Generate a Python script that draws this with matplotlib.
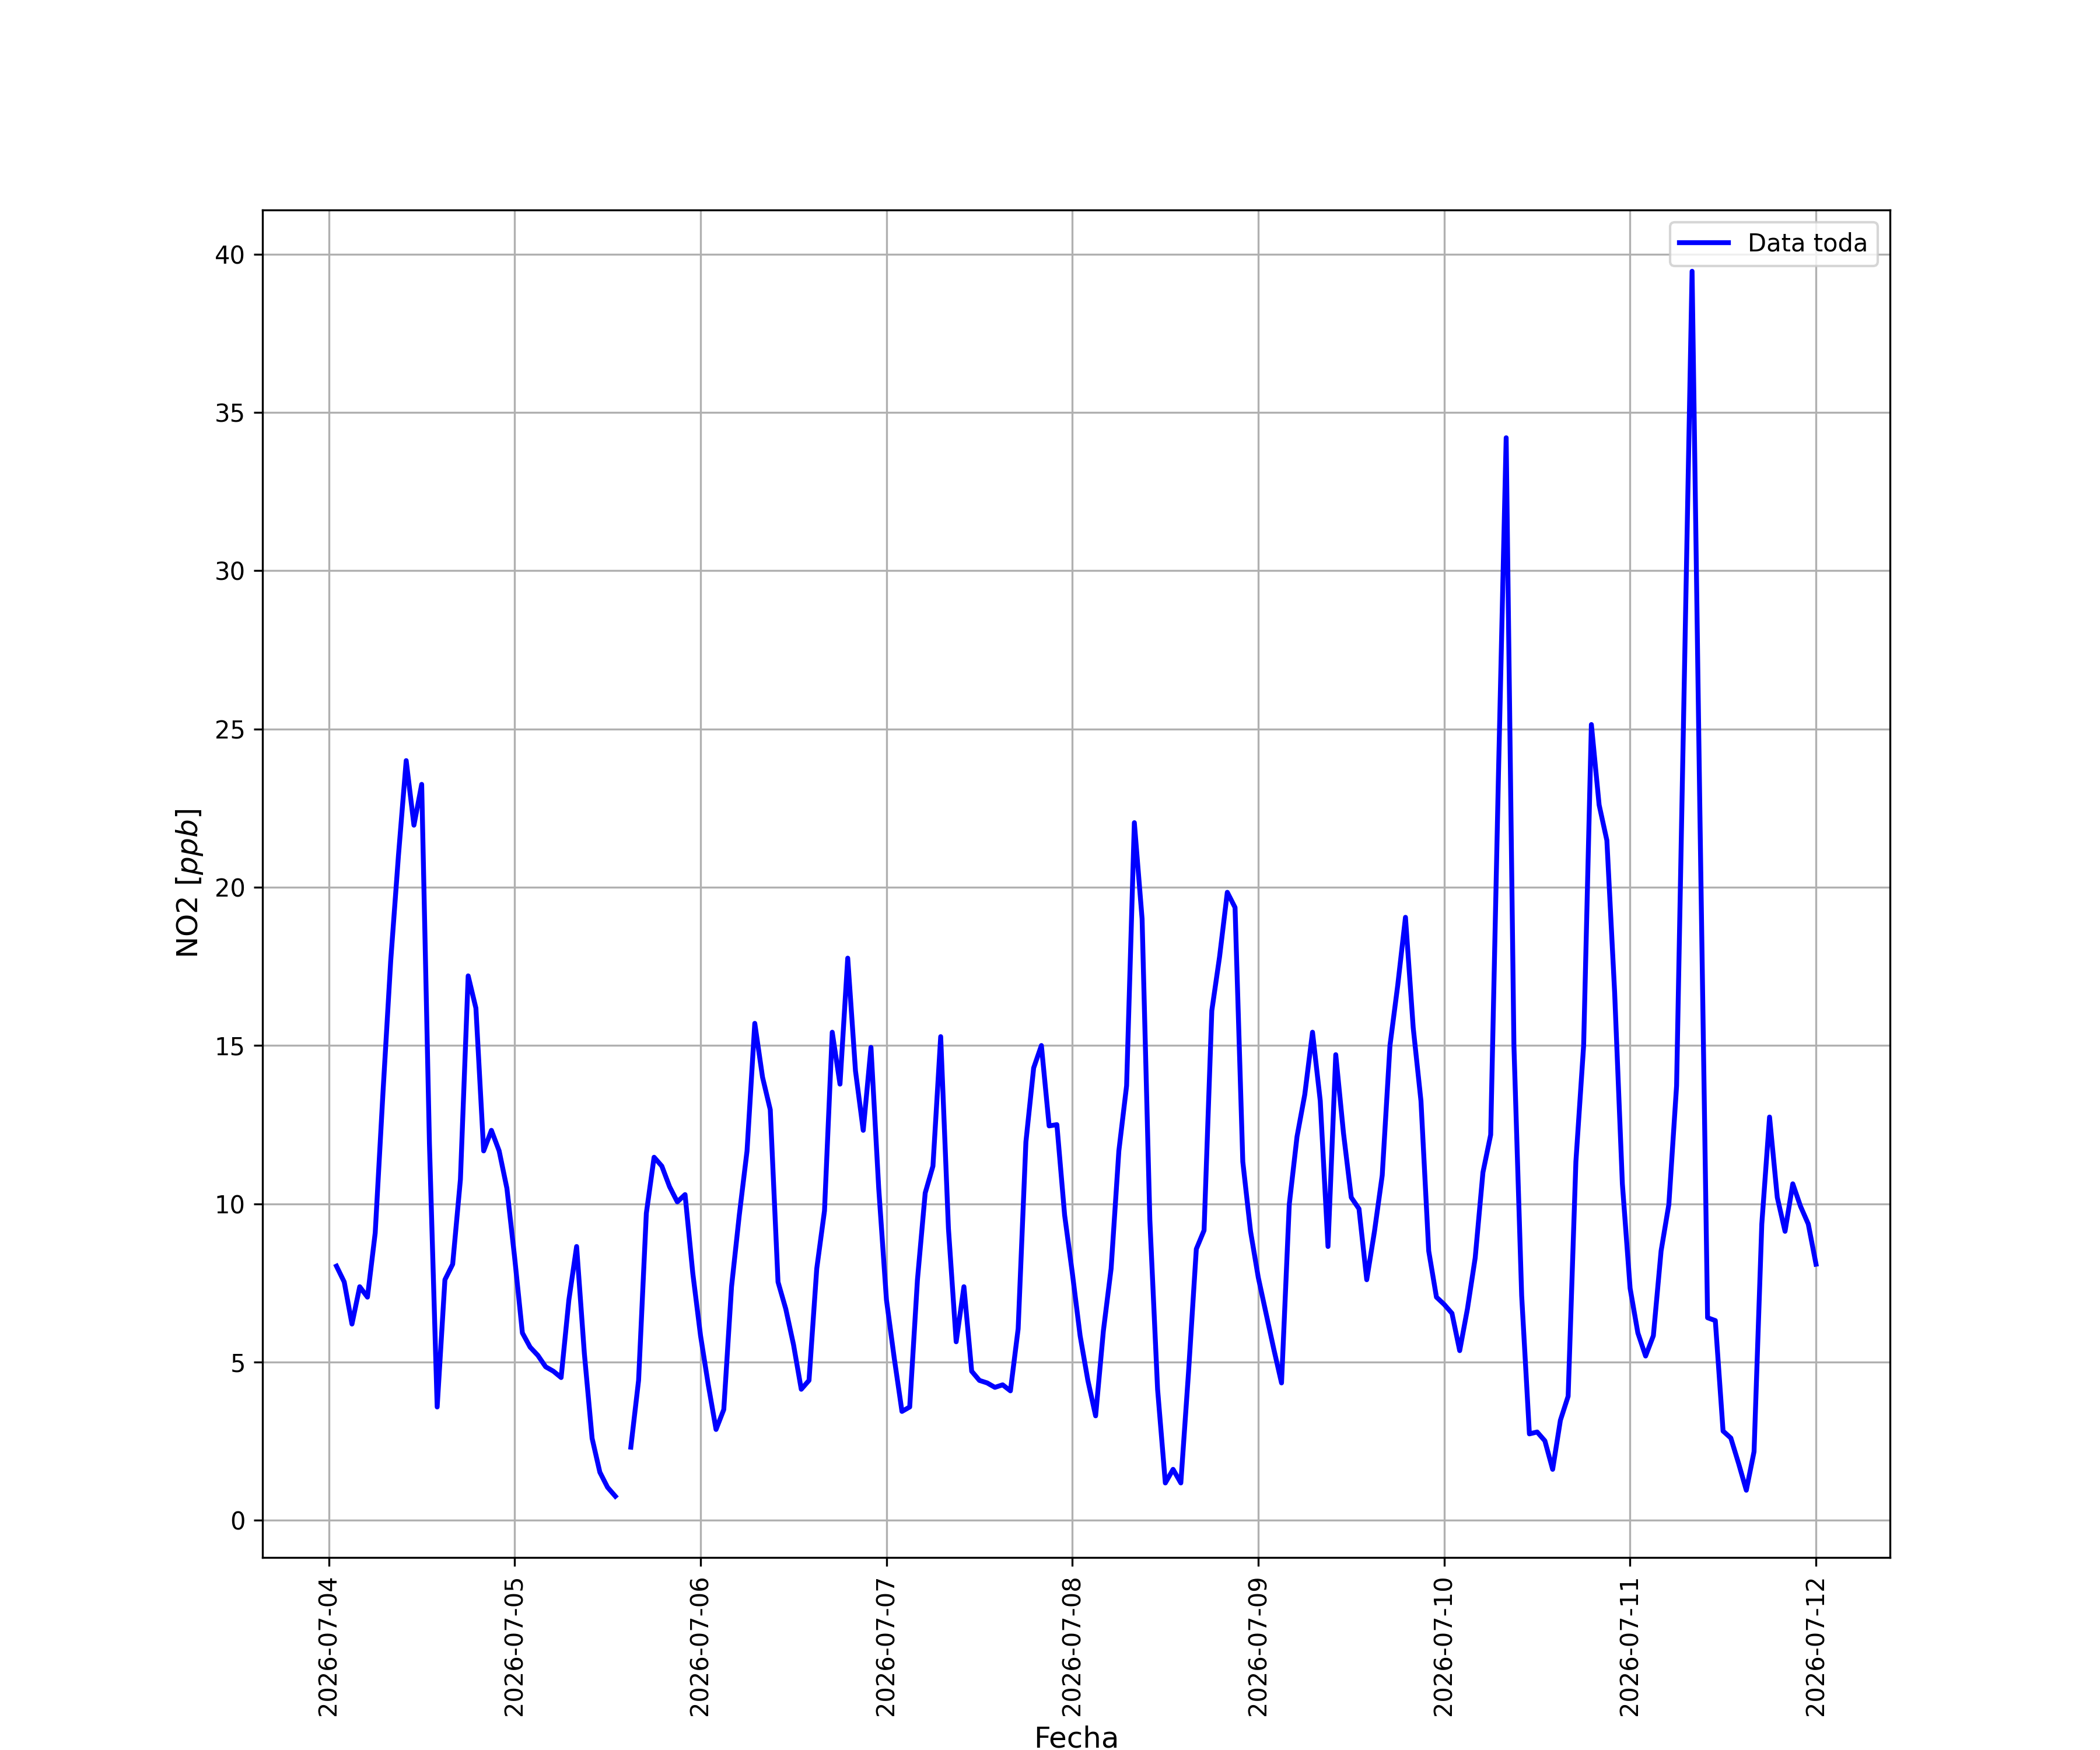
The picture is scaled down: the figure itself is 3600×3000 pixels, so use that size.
import numpy as np
import pandas as pd
import matplotlib
matplotlib.use("Agg")
import matplotlib.pyplot as plt
import matplotlib.dates as mdates

start_time = "2026-07-04 01:00"
n_hours = 192

no2_values = [
    8.03, 7.53, 6.20, 7.38, 7.05, 9.08, 13.5, 17.67, 21.0, 24.0,
    21.96, 23.25, 11.9, 3.58, 7.6, 8.09, 10.77, 17.2, 16.18, 11.67,
    12.32, 11.67, 10.49, 8.3, 5.92, 5.47, 5.21, 4.85, 4.71, 4.51,
    6.96, 8.65, 5.27, 2.59, 1.52, 1.04, 0.76, np.nan, 2.31, 4.42,
    9.7, 11.47, 11.19, 10.54, 10.06, 10.29, 7.8, 5.83, 4.28, 2.87,
    3.5, 7.38, 9.64, 11.67, 15.7, 14.0, 12.97, 7.53, 6.68, 5.55,
    4.14, 4.42, 7.95, 9.78, 15.42, 13.78, 17.76, 14.2, 12.32, 14.94,
    10.49, 6.96, 5.13, 3.44, 3.58, 7.6, 10.34, 11.19, 15.28, 9.22,
    5.64, 7.38, 4.71, 4.42, 4.34, 4.2, 4.28, 4.09, 6.05, 11.95,
    14.29, 15.0, 12.46, 12.5, 9.64, 7.8, 5.83, 4.42, 3.3, 5.98,
    7.95, 11.67, 13.73, 22.04, 19.0, 9.5, 4.14, 1.18, 1.61, 1.18,
    4.7, 8.57, 9.16, 16.1, 17.8, 19.84, 19.36, 11.33, 9.13, 7.67,
    6.54, 5.41, 4.34, 9.98, 12.12, 13.45, 15.42, 13.25, 8.65, 14.71,
    12.23, 10.2, 9.84, 7.6, 9.13, 10.9, 15.0, 16.9, 19.05, 15.56,
    13.25, 8.51, 7.05, 6.82, 6.54, 5.36, 6.68, 8.29, 10.99, 12.18,
    23.5, 34.2, 15.0, 7.1, 2.73, 2.79, 2.51, 1.61, 3.16, 3.92,
    11.33, 15.0, 25.14, 22.6, 21.48, 16.69, 10.63, 7.33, 5.92, 5.19,
    5.83, 8.51, 9.98, 13.73, 26.6, 39.46, 22.5, 6.4, 6.31, 2.82,
    2.6, 1.8, 0.95, 2.17, 9.36, 12.74, 10.2, 9.13, 10.63, 9.92,
    9.36, 8.09,
]

series_label = "Data toda"
x_label = "Fecha"
y_label = "NO2 [$ppb$]"

times = pd.date_range(start_time, periods=n_hours, freq="h")

fig, ax = plt.subplots(figsize=(12, 10), dpi=300)
ax.plot(times, no2_values, color="blue", linewidth=2, label=series_label)
ax.xaxis.set_major_locator(mdates.DayLocator())
ax.xaxis.set_major_formatter(mdates.DateFormatter("%Y-%m-%d"))
plt.setp(ax.get_xticklabels(), rotation=90)
ax.grid(True)
ax.set_xlabel(x_label, fontsize=12)
ax.set_ylabel(y_label, fontsize=12)
ax.legend(loc="upper right")
fig.savefig("out.png", dpi=300)
